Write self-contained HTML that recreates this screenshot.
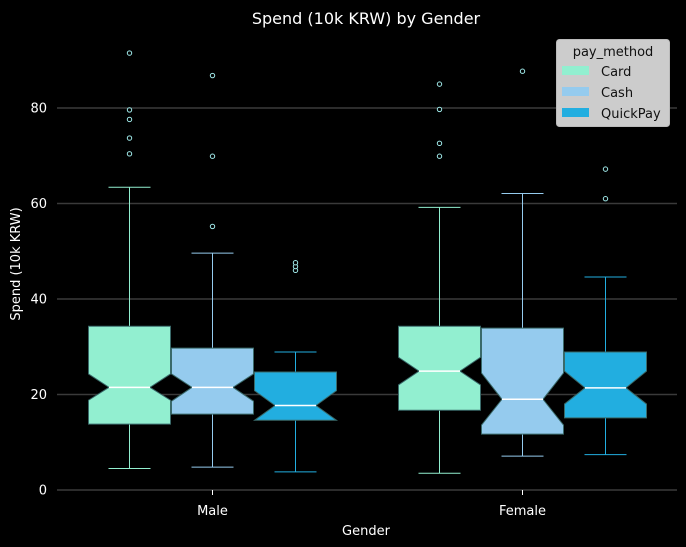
<!DOCTYPE html>
<html><head><meta charset="utf-8"><style>
body{margin:0;background:#000}
svg{display:block;font-family:"DejaVu Sans","Liberation Sans",sans-serif}
</style></head><body>
<svg id="chart" width="686" height="547">
<rect width="686" height="547" fill="#000"/>
<text x="366" y="24" fill="#fff" font-size="16" text-anchor="middle">Spend (10k KRW) by Gender</text>
<g id="grid"></g><g id="boxes"></g><g id="axes"></g>
<text x="366" y="535" fill="#fff" font-size="13" text-anchor="middle">Gender</text>
<text transform="translate(20,264) rotate(-90)" fill="#fff" font-size="13" text-anchor="middle">Spend (10k KRW)</text>
<g>
<rect x="556.5" y="39.5" width="113" height="87" rx="3" fill="#ccc" stroke="#bbb"/>
<text x="613" y="56" font-size="13" text-anchor="middle" fill="#111">pay_method</text>
<g id="legend-items"></g>
</g>
</svg>
<script>
const categories=["Male","Female"];
const series=["Card","Cash","QuickPay"];
const colors=["#92efd0","#95cbee","#22aee0"];
const yTicks=[0,20,40,60,80];
const q1=[[13.8,15.9,14.6],[16.7,11.7,15.1]];
const q3=[[34.3,29.7,24.7],[34.3,33.9,28.9]];
const medians=[[21.5,21.5,17.7],[24.9,19.0,21.4]];
const notchLo=[[18.8,18.6,14.6],[22.0,13.6,18.0]];
const notchHi=[[24.3,24.3,20.8],[27.8,24.5,24.9]];
const whisLo=[[4.5,4.8,3.8],[3.5,7.1,7.4]];
const whisHi=[[63.4,49.6,28.9],[59.2,62.1,44.6]];
const outliers=[[[70.4,73.7,77.6,79.6,91.5],[55.2,69.9,86.8],[46.0,46.8,47.6]],[[69.9,72.6,79.7,85.0],[87.7],[61.0,67.2]]];
const NS="http://www.w3.org/2000/svg";
const y=v=>490-v*4.775;
const xc=i=>212.5+i*310;
const off=83,bw=82;
function mk(t,a,p){const e=document.createElementNS(NS,t);for(const k in a)e.setAttribute(k,a[k]);p.appendChild(e);return e;}
const grid=document.getElementById('grid'),axes=document.getElementById('axes'),boxes=document.getElementById('boxes');
yTicks.forEach(v=>{
 const l=mk('line',{x1:57,x2:677,y1:y(v),y2:y(v),stroke:'#3a3a3a','stroke-width':1.6},grid);
 
 const t=mk('text',{x:47,y:y(v)+4.5,fill:'#fff','font-size':13,'text-anchor':'end'},axes);
 t.textContent=v;
});
categories.forEach((c,i)=>{
 mk('line',{x1:xc(i),x2:xc(i),y1:490,y2:495,stroke:'#fff'},axes);
 const t=mk('text',{x:xc(i),y:515,fill:'#fff','font-size':13,'text-anchor':'middle'},axes);
 t.textContent=c;
 series.forEach((s,j)=>{
  const cx=xc(i)+(j-1)*off,L=cx-bw/2,R=cx+bw/2,col=colors[j];
  const g=mk('g',{},boxes);
  
  
  mk('line',{x1:cx,x2:cx,y1:y(q3[i][j]),y2:y(whisHi[i][j]),stroke:col},g);
  mk('line',{x1:cx,x2:cx,y1:y(q1[i][j]),y2:y(whisLo[i][j]),stroke:col},g);
  mk('line',{x1:cx-21,x2:cx+21,y1:y(whisHi[i][j]),y2:y(whisHi[i][j]),stroke:col},g);
  mk('line',{x1:cx-21,x2:cx+21,y1:y(whisLo[i][j]),y2:y(whisLo[i][j]),stroke:col},g);
  const nl=cx-bw/4,nr=cx+bw/4,m=y(medians[i][j]);
  const pts=[[L,y(q3[i][j])],[R,y(q3[i][j])],[R,y(notchHi[i][j])],[nr,m],[R,y(notchLo[i][j])],[R,y(q1[i][j])],[L,y(q1[i][j])],[L,y(notchLo[i][j])],[nl,m],[L,y(notchHi[i][j])]];
  mk('polygon',{points:pts.map(p=>p.join(',')).join(' '),fill:col,stroke:'#3a6a6a','stroke-width':1},g);
  mk('line',{x1:nl,x2:nr,y1:m,y2:m,stroke:'#fff','stroke-width':1.5},g);
  outliers[i][j].forEach(v=>{
   const o=mk('circle',{cx:cx,cy:y(v),r:2.2,fill:'#000',stroke:'#a0eaea','stroke-width':1},g);
   
  });
 });
});
const li=document.getElementById('legend-items');
series.forEach((s,j)=>{
 const r=mk('rect',{x:562,y:66+j*21,width:27,height:9,fill:colors[j]},li);
 
 const t=mk('text',{x:601,y:76+j*21,'font-size':13,fill:'#111'},li);
 t.textContent=s;
});
</script>
</body></html>
